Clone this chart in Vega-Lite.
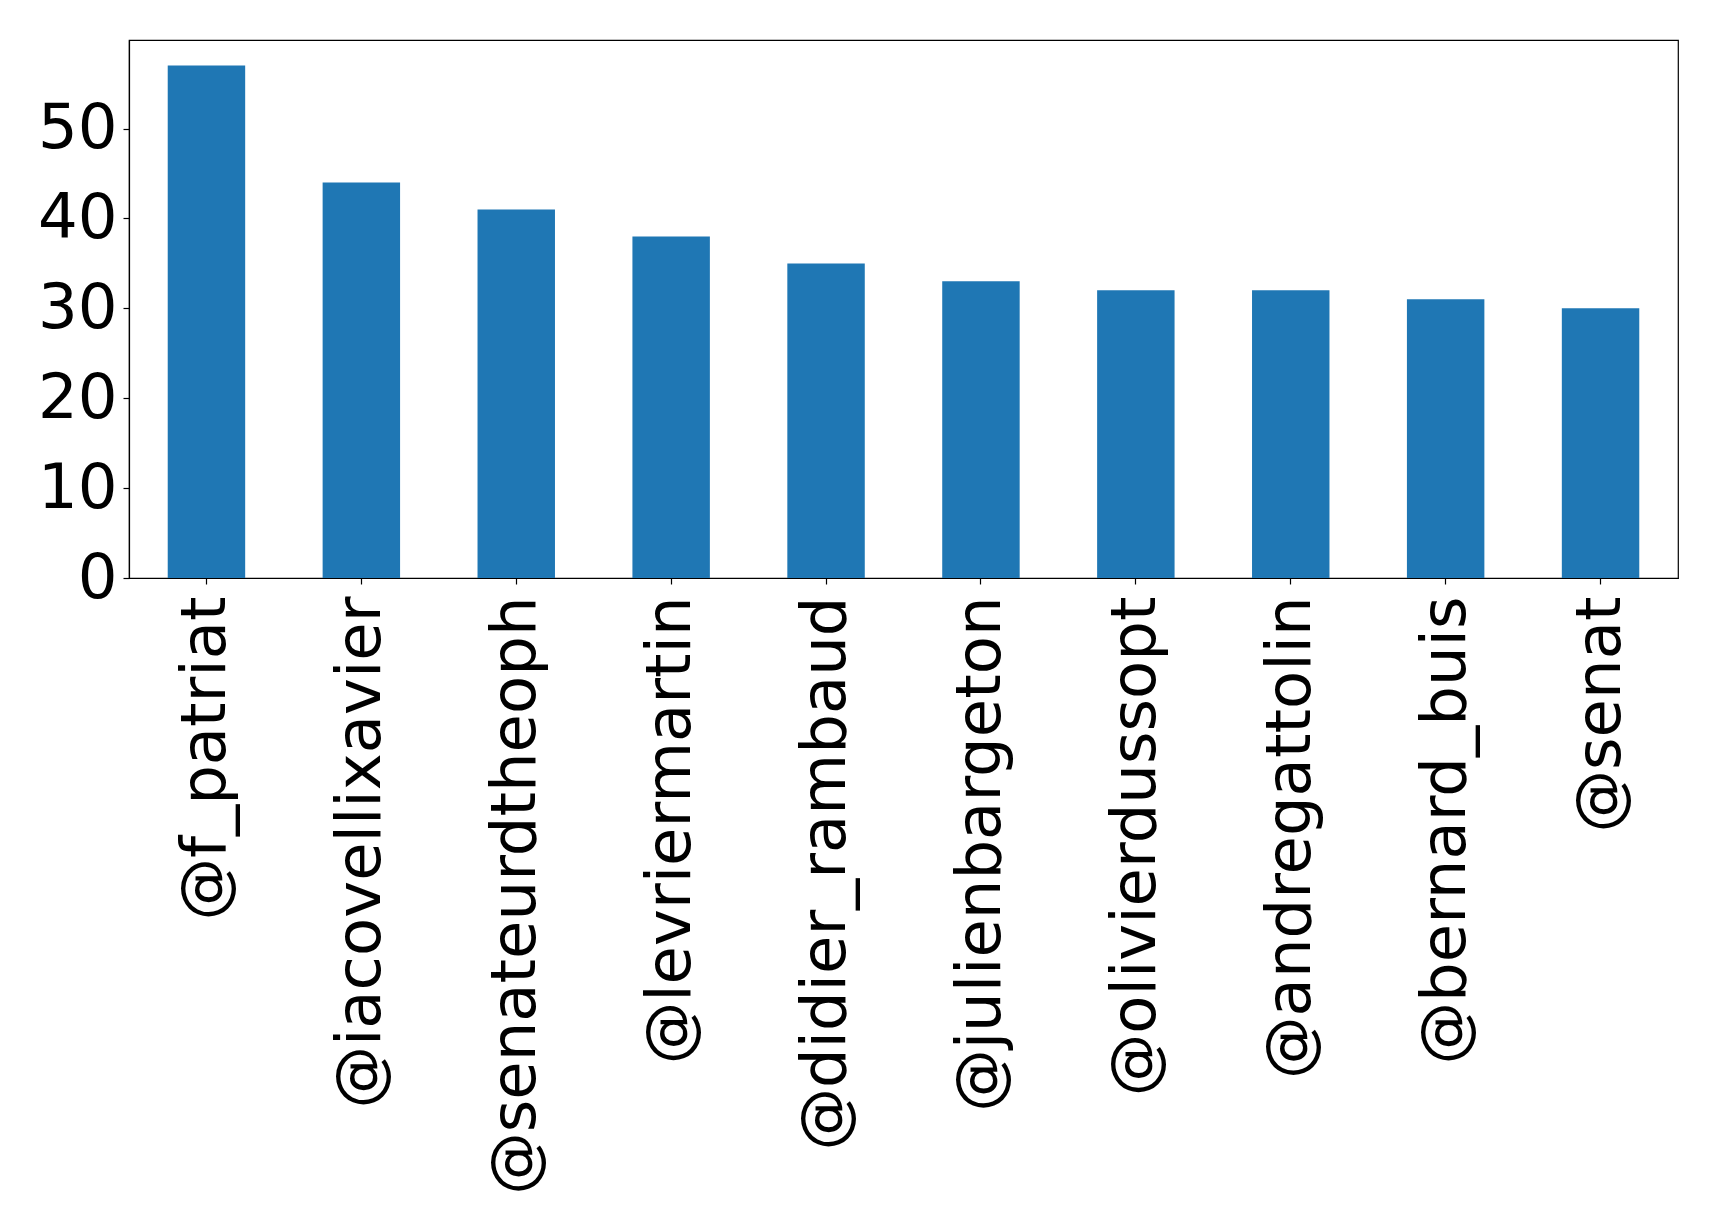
{
  "$schema": "https://vega.github.io/schema/vega-lite/v6.json",
  "autosize": "none",
  "padding": {"left": 129, "top": 40, "right": 41, "bottom": 648},
  "width": 1549,
  "height": 538,
  "background": "white",
  "config": {
    "view": {"stroke": "black", "strokeWidth": 1.2},
    "font": "DejaVu Sans",
    "axis": {
      "domainColor": "black",
      "tickColor": "black",
      "labelColor": "black",
      "labelFont": "DejaVu Sans",
      "labelFontSize": 62.5,
      "grid": false,
      "tickSize": 6,
      "tickWidth": 1.2,
      "domainWidth": 1.2
    }
  },
  "data": {
    "values": [
      {"user": "@f_patriat", "count": 57},
      {"user": "@iacovellixavier", "count": 44},
      {"user": "@senateurdtheoph", "count": 41},
      {"user": "@levriermartin", "count": 38},
      {"user": "@didier_rambaud", "count": 35},
      {"user": "@julienbargeton", "count": 33},
      {"user": "@olivierdussopt", "count": 32},
      {"user": "@andregattolin", "count": 32},
      {"user": "@bernard_buis", "count": 31},
      {"user": "@senat", "count": 30}
    ]
  },
  "mark": {"type": "bar", "color": "#1f77b4"},
  "encoding": {
    "x": {
      "field": "user",
      "type": "nominal",
      "sort": null,
      "scale": {"paddingInner": 0.5, "paddingOuter": 0.25},
      "axis": {"title": null, "labelAngle": -90, "labelPadding": 12, "labelLimit": 0}
    },
    "y": {
      "field": "count",
      "type": "quantitative",
      "scale": {"domain": [0, 59.85], "nice": false, "zero": true},
      "axis": {"title": null, "values": [0, 10, 20, 30, 40, 50], "labelPadding": 6, "labelBaseline": "middle"}
    }
  }
}
